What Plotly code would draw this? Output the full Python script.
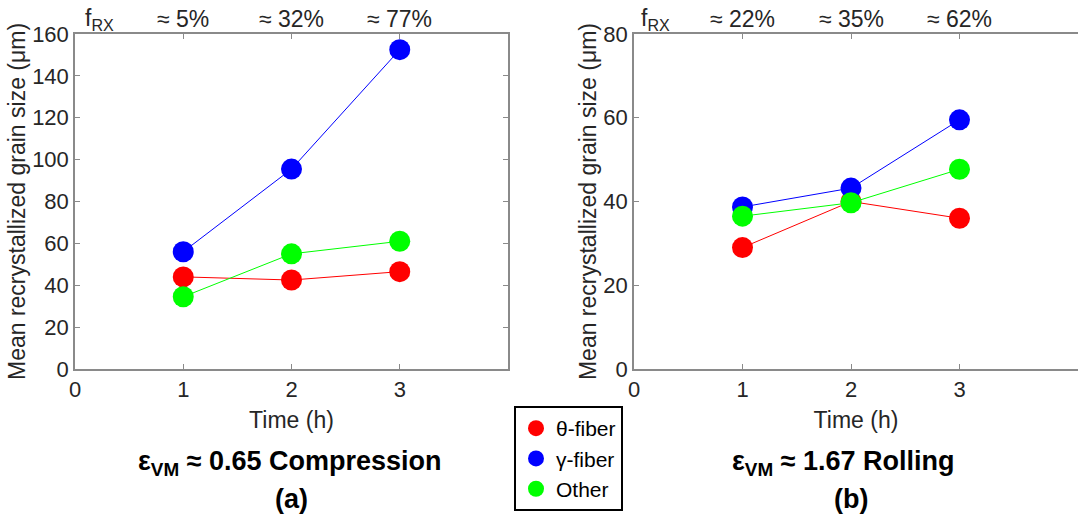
import plotly.graph_objects as go

time_h = [1, 2, 3]
series_names = ["θ-fiber", "γ-fiber", "Other"]
series_colors = ["#ff0000", "#0000ff", "#00ff00"]

# (a) compression
comp_theta = [44, 42.5, 46.5]
comp_gamma = [56, 95.5, 152.5]
comp_other = [34.5, 55, 61]
frx_comp = ["≈ 5%", "≈ 32%", "≈ 77%"]

# (b) rolling
roll_theta = [29, 40, 36]
roll_gamma = [38.7, 43.2, 59.5]
roll_other = [36.5, 39.7, 47.7]
frx_roll = ["≈ 22%", "≈ 35%", "≈ 62%"]

xticks = [0, 1, 2, 3]
yticks_a = [0, 20, 40, 60, 80, 100, 120, 140, 160]
yticks_b = [0, 20, 40, 60, 80]

FONT = "Liberation Sans, Arial, sans-serif"
AXC = "#8a8a8a"
TXT = "#262626"

fig = go.Figure()

for vals, name, col in zip([comp_theta, comp_gamma, comp_other], series_names, series_colors):
    fig.add_trace(go.Scatter(x=time_h, y=vals, mode="lines+markers", name=name,
                             line=dict(color=col, width=1),
                             marker=dict(color=col, size=21, line=dict(width=0)),
                             showlegend=False, xaxis="x", yaxis="y"))
for vals, name, col in zip([roll_theta, roll_gamma, roll_other], series_names, series_colors):
    fig.add_trace(go.Scatter(x=time_h, y=vals, mode="lines+markers", name=name,
                             line=dict(color=col, width=1),
                             marker=dict(color=col, size=21, line=dict(width=0)),
                             showlegend=False, xaxis="x2", yaxis="y2"))
for name, col in zip(series_names, series_colors):
    fig.add_trace(go.Scatter(x=[None], y=[None], mode="markers", name=name,
                             marker=dict(color=col, size=21, line=dict(width=0)),
                             showlegend=True, xaxis="x", yaxis="y"))

W, H = 1078, 518
def px_x(p): return p / W
def px_y(p): return 1 - p / H

axis_common = dict(showline=True, linecolor=AXC, linewidth=1.5, ticks="inside",
                   tickcolor=AXC, ticklen=5, tickwidth=1, showgrid=False, zeroline=False,
                   automargin=False,
                   tickfont=dict(family=FONT, size=22, color=TXT),
                   title_font=dict(family=FONT, size=23, color=TXT))

fig.update_layout(
    width=W, height=H, margin=dict(l=0, r=0, t=0, b=0, autoexpand=False),
    paper_bgcolor="white", plot_bgcolor="white",
    font=dict(family=FONT, color=TXT),
    xaxis=dict(domain=[px_x(75), px_x(508)], range=[0, 4], tickvals=xticks,
               mirror="ticks", anchor="y", title=dict(text="Time (h)", standoff=11), **axis_common),
    yaxis=dict(domain=[px_y(369), px_y(34)], range=[0, 160], tickvals=yticks_a,
               mirror="ticks", anchor="x",
               title=dict(text="Mean recrystallized grain size (μm)", standoff=0), **axis_common),
    xaxis2=dict(domain=[px_x(634), 1.0], range=[0, (1078 - 634) / 108.5], tickvals=xticks,
                mirror="ticks", anchor="y2", title=dict(text="Time (h)", standoff=11), **axis_common),
    yaxis2=dict(domain=[px_y(369), px_y(34)], range=[0, 80], tickvals=yticks_b,
                mirror=False, anchor="x2",
                title=dict(text="Mean recrystallized grain size (μm)", standoff=0), **axis_common),
    legend=dict(x=px_x(514), y=px_y(406), xanchor="left", yanchor="top",
                bordercolor="black", borderwidth=2, bgcolor="white",
                font=dict(family=FONT, size=21, color="black"),
                tracegroupgap=0, itemwidth=30),
)

ann = []
for xref, yref, labels, fx in [("x", "y", frx_comp, 0.23), ("x2", "y2", frx_roll, 0.2)]:
    ann.append(dict(x=fx, y=1.0, xref=xref, yref=f"{yref} domain",
                    text="f<sub>RX</sub>", showarrow=False, xanchor="center", yanchor="bottom",
                    yshift=-2, font=dict(family=FONT, size=23, color=TXT)))
    for t, lab in zip(time_h, labels):
        ann.append(dict(x=t, y=1.0, xref=xref, yref=f"{yref} domain", text=lab,
                        showarrow=False, xanchor="center", yanchor="bottom", yshift=0,
                        font=dict(family=FONT, size=23, color=TXT)))

bold = dict(family=FONT, size=27, color="black")
ann += [
    dict(x=px_x(290), y=px_y(463), xref="paper", yref="paper", xanchor="center", yanchor="middle",
         text="<b>ε<sub>VM</sub> ≈ 0.65 Compression</b>", showarrow=False, font=bold),
    dict(x=px_x(291), y=px_y(499), xref="paper", yref="paper", xanchor="center", yanchor="middle",
         text="<b>(a)</b>", showarrow=False, font=bold),
    dict(x=px_x(843), y=px_y(463), xref="paper", yref="paper", xanchor="center", yanchor="middle",
         text="<b>ε<sub>VM</sub> ≈ 1.67 Rolling</b>", showarrow=False, font=bold),
    dict(x=px_x(851), y=px_y(499), xref="paper", yref="paper", xanchor="center", yanchor="middle",
         text="<b>(b)</b>", showarrow=False, font=bold),
]
fig.update_layout(annotations=ann)

fig.write_html("out.html")
